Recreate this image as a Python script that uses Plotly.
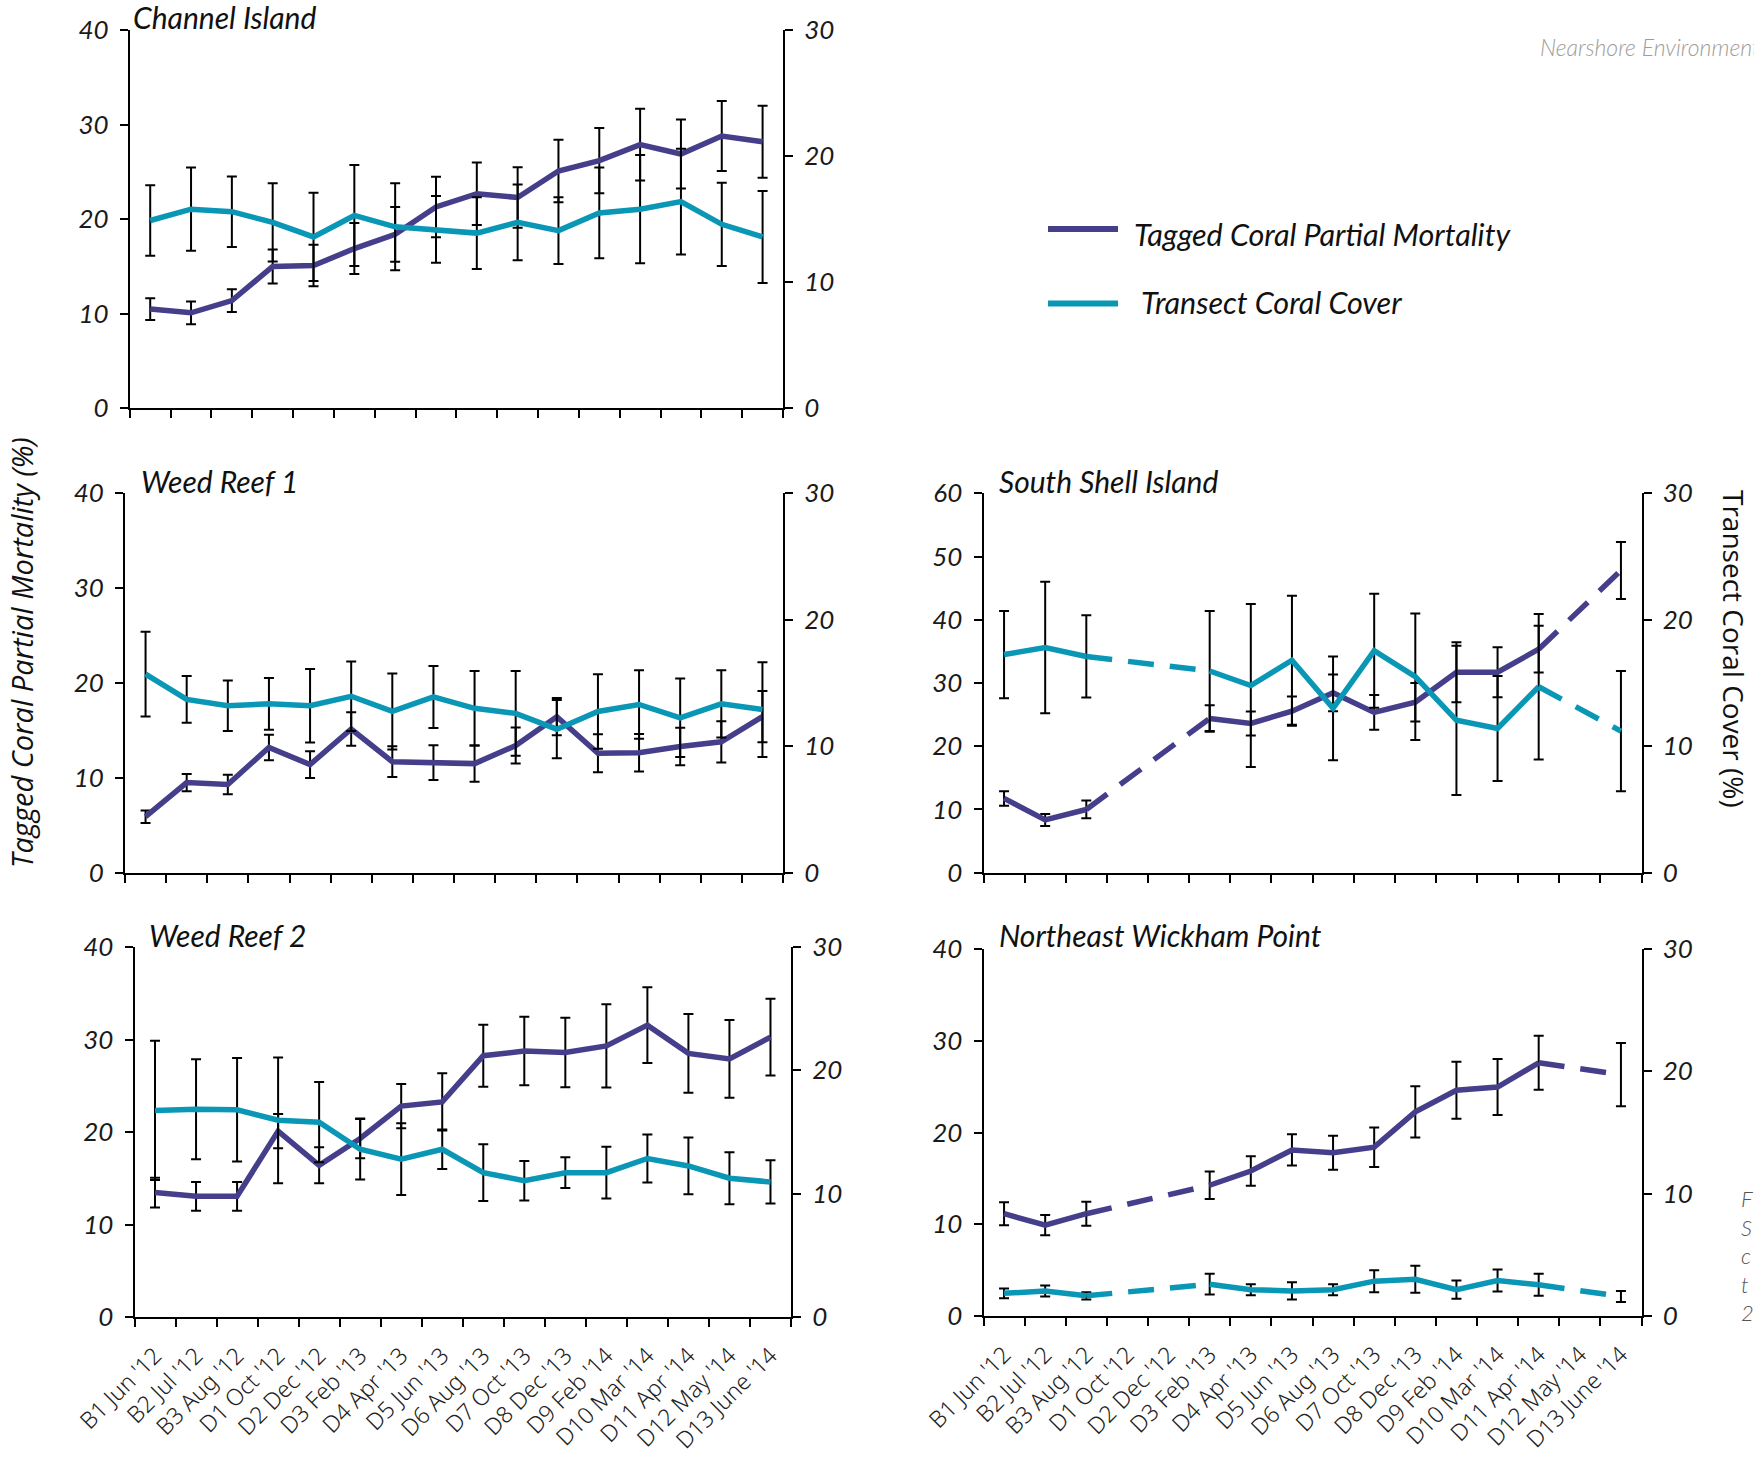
import plotly.graph_objects as go

# ---- sampling events (shared x categories) ----
events = ["B1 Jun '12", "B2 Jul '12", "B3 Aug '12", "D1 Oct '12", "D2 Dec '12",
          "D3 Feb '13", "D4 Apr '13", "D5 Jun '13", "D6 Aug '13", "D7 Oct '13",
          "D8 Dec '13", "D9 Feb '14", "D10 Mar '14", "D11 Apr '14", "D12 May '14",
          "D13 June '14"]

# ---- Channel Island ----
ci_mort = [10.5, 10.1, 11.4, 15.0, 15.1, 16.9, 18.4, 21.3, 22.7, 22.3, 25.1, 26.2, 27.9, 26.9, 28.8, 28.2]
ci_mort_err = [1.15, 1.2, 1.2, 1.8, 2.2, 2.7, 2.9, 3.2, 3.3, 3.2, 3.3, 3.45, 3.8, 3.65, 3.7, 3.8]
ci_cover = [14.9, 15.8, 15.6, 14.75, 13.6, 15.3, 14.4, 14.2, 13.9, 14.75, 14.1, 15.5, 15.8, 16.4, 14.6, 13.6]
ci_cover_err = [2.8, 3.3, 2.8, 3.1, 3.5, 4.0, 3.45, 2.65, 2.85, 3.0, 2.65, 3.6, 4.3, 4.2, 3.3, 3.65]

# ---- Weed Reef 1 ----
wr1_mort = [5.9, 9.5, 9.3, 13.2, 11.4, 15.15, 11.7, 11.6, 11.5, 13.4, 16.45, 12.6, 12.65, 13.3, 13.8, 16.45]
wr1_mort_err = [0.67, 0.91, 1.02, 1.34, 1.41, 1.76, 1.62, 1.83, 1.9, 1.9, 1.97, 2.0, 1.97, 1.97, 2.18, 2.7]
wr1_cover = [15.7, 13.7, 13.2, 13.35, 13.2, 13.95, 12.75, 13.9, 13.0, 12.6, 11.35, 12.75, 13.3, 12.25, 13.35, 12.9]
wr1_cover_err = [3.35, 1.85, 2.0, 2.05, 2.9, 2.75, 3.0, 2.45, 2.95, 3.35, 2.3, 2.95, 2.7, 3.1, 2.65, 3.75]

# ---- Weed Reef 2 ----
wr2_mort = [13.45, 13.05, 13.05, 20.1, 16.4, 19.3, 22.8, 23.25, 28.25, 28.75, 28.6, 29.3, 31.55, 28.5, 27.9, 30.25]
wr2_mort_err = [1.6, 1.55, 1.55, 1.85, 1.95, 2.15, 2.4, 3.1, 3.35, 3.7, 3.75, 4.5, 4.1, 4.25, 4.2, 4.15]
wr2_cover = [16.75, 16.85, 16.8, 15.95, 15.8, 13.6, 12.8, 13.6, 11.7, 11.05, 11.7, 11.7, 12.85, 12.25, 11.25, 10.95]
wr2_cover_err = [5.65, 4.05, 4.2, 5.1, 3.25, 2.45, 2.9, 1.6, 2.3, 1.6, 1.25, 2.1, 1.95, 2.3, 2.1, 1.75]

# ---- South Shell Island (no surveys at D1, D2, D12) ----
ss_mort = [11.75, 8.35, 10.0, None, None, 24.4, 23.6, 25.55, 28.45, 25.35, 26.95, 31.7, 31.7, 35.35, None, 47.8]
ss_mort_err = [1.15, 0.95, 1.4, None, None, 2.1, 1.9, 2.3, 2.9, 2.75, 3.05, 4.75, 3.95, 3.7, None, 4.5]
ss_cover = [17.25, 17.8, 17.1, None, None, 15.95, 14.8, 16.8, 13.0, 17.55, 15.5, 12.05, 11.4, 14.7, None, 11.2]
ss_cover_err = [3.45, 5.2, 3.25, None, None, 4.75, 6.45, 5.1, 4.1, 4.5, 5.0, 5.9, 4.15, 5.75, None, 4.75]

# ---- Northeast Wickham Point (no surveys at D1, D2, D12) ----
ne_mort = [11.15, 9.9, 11.15, None, None, 14.25, 15.8, 18.1, 17.8, 18.4, 22.25, 24.6, 24.95, 27.6, None, 26.3]
ne_mort_err = [1.25, 1.1, 1.3, None, None, 1.5, 1.6, 1.7, 1.85, 2.15, 2.8, 3.1, 3.05, 2.95, None, 3.45]
ne_cover = [1.85, 2.05, 1.65, None, None, 2.6, 2.15, 2.05, 2.15, 2.85, 3.0, 2.15, 2.9, 2.55, None, 1.6]
ne_cover_err = [0.4, 0.45, 0.3, None, None, 0.85, 0.45, 0.7, 0.45, 0.9, 1.1, 0.75, 0.9, 0.9, None, 0.45]

left_ticks_40 = [0, 10, 20, 30, 40]
left_ticks_60 = [0, 10, 20, 30, 40, 50, 60]
right_ticks = [0, 10, 20, 30]

PURPLE = "#453f8b"
CYAN = "#0a97b6"
W, H = 1754, 1468


def px_x(v):
    return v / W


def px_y(v):
    return 1 - v / H


# panel boxes in pixels: (left, right, top, bottom)
panels = [
    dict(title="Channel Island", mort=ci_mort, mort_err=ci_mort_err, cover=ci_cover, cover_err=ci_cover_err,
         lticks=left_ticks_40, box=(129.8, 783, 30.2, 408.3), labels=False, title_pos=(131, 17)),
    dict(title="Weed Reef 1", mort=wr1_mort, mort_err=wr1_mort_err, cover=wr1_cover, cover_err=wr1_cover_err,
         lticks=left_ticks_40, box=(125, 783, 493.3, 872.7), labels=False, title_pos=(139, 481)),
    dict(title="Weed Reef 2", mort=wr2_mort, mort_err=wr2_mort_err, cover=wr2_cover, cover_err=wr2_cover_err,
         lticks=left_ticks_40, box=(134.5, 791, 947, 1317), labels=True, title_pos=(147, 935)),
    dict(title="South Shell Island", mort=ss_mort, mort_err=ss_mort_err, cover=ss_cover, cover_err=ss_cover_err,
         lticks=left_ticks_60, box=(983.5, 1641.5, 493.3, 872.7), labels=False, title_pos=(997, 481)),
    dict(title="Northeast Wickham Point", mort=ne_mort, mort_err=ne_mort_err, cover=ne_cover, cover_err=ne_cover_err,
         lticks=left_ticks_40, box=(983.5, 1641.5, 949, 1316), labels=True, title_pos=(997, 935)),
]

tick_font = dict(family="Lato, 'Open Sans', sans-serif", size=26, color="#1a1a1a", style="italic")
xlab_font = dict(family="'Noto Sans', 'Open Sans', sans-serif", size=23, color="#222222", weight=300)
title_font = dict(family="Lato, 'Open Sans', sans-serif", size=30, color="#111111", style="italic")
DASH = "26px,16px"


def ax_key(prefix, i):
    return f"{prefix}axis" if i == 1 else f"{prefix}axis{i}"


def ax_ref(prefix, i):
    return prefix if i == 1 else f"{prefix}{i}"


def gap_links(vals):
    """Pairs of surveyed points separated by unsurveyed events."""
    idx = [i for i, v in enumerate(vals) if v is not None]
    xs, ys = [], []
    for a, b in zip(idx[:-1], idx[1:]):
        if b - a > 1:
            xs += [a, b, None]
            ys += [vals[a], vals[b], None]
    return xs, ys


fig = go.Figure()
layout = {}
annotations = []
xcat = list(range(len(events)))

for k, p in enumerate(panels):
    xi, ly, ry = k + 1, 2 * k + 1, 2 * k + 2
    xr, lyr, ryr = ax_ref("x", xi), ax_ref("y", ly), ax_ref("y", ry)
    l, r, t, b = p["box"]

    layout[ax_key("x", xi)] = dict(
        domain=[px_x(l), px_x(r)], anchor=lyr, range=[-0.5, len(events) - 0.5],
        automargin=False,
        showline=True, linecolor="black", linewidth=2, showgrid=False, zeroline=False,
        tickmode="array", tickvals=xcat, ticktext=events, showticklabels=p["labels"],
        ticks="outside", ticklen=14, tickcolor="rgba(0,0,0,0)", tickangle=-45,
        tickfont=xlab_font, fixedrange=True,
        minor=dict(tickmode="array", tickvals=[i - 0.5 for i in range(len(events) + 1)],
                   ticks="outside", ticklen=8, tickwidth=2, tickcolor="black", showgrid=False),
    )
    layout[ax_key("y", ly)] = dict(
        domain=[px_y(b), px_y(t)], anchor=xr, range=[0, p["lticks"][-1]], automargin=False,
        tickmode="array", tickvals=p["lticks"], showline=True, linecolor="black", linewidth=2,
        ticks="outside", ticklen=8, tickwidth=2, tickcolor="black", showgrid=False, zeroline=False,
        ticklabelstandoff=6, tickfont=tick_font, fixedrange=True,
    )
    layout[ax_key("y", ry)] = dict(
        overlaying=lyr, side="right", anchor=xr, range=[0, right_ticks[-1]], automargin=False,
        tickmode="array", tickvals=right_ticks, showline=True, linecolor="black", linewidth=2,
        ticks="outside", ticklen=8, tickwidth=2, tickcolor="black", showgrid=False, zeroline=False,
        ticklabelstandoff=6, tickfont=tick_font, fixedrange=True,
    )

    err_style = dict(type="data", visible=True, color="black", thickness=2, width=5)

    # transect coral cover on the right axis
    fig.add_trace(go.Scatter(
        x=xcat, y=p["cover"], xaxis=xr, yaxis=ryr, mode="lines",
        line=dict(color=CYAN, width=5.5), connectgaps=False, showlegend=False,
        error_y=dict(array=p["cover_err"], **err_style),
    ))
    gx, gy = gap_links(p["cover"])
    if gx:
        fig.add_trace(go.Scatter(x=gx, y=gy, xaxis=xr, yaxis=ryr, mode="lines",
                                 line=dict(color=CYAN, width=5.5, dash=DASH),
                                 showlegend=False))

    # tagged coral partial mortality on the left axis
    fig.add_trace(go.Scatter(
        x=xcat, y=p["mort"], xaxis=xr, yaxis=lyr, mode="lines",
        line=dict(color=PURPLE, width=5.5), connectgaps=False, showlegend=False,
        error_y=dict(array=p["mort_err"], **err_style),
    ))
    gx, gy = gap_links(p["mort"])
    if gx:
        fig.add_trace(go.Scatter(x=gx, y=gy, xaxis=xr, yaxis=lyr, mode="lines",
                                 line=dict(color=PURPLE, width=5.5, dash=DASH),
                                 showlegend=False))

    tx, ty = p["title_pos"]
    annotations.append(dict(text=p["title"], x=px_x(tx), y=px_y(ty), xref="paper", yref="paper",
                            xanchor="left", yanchor="middle", showarrow=False, font=title_font))

# axis titles
annotations.append(dict(text="Tagged Coral Partial Mortality (%)", x=px_x(22), y=px_y(653),
                        xref="paper", yref="paper", textangle=-90, showarrow=False,
                        xanchor="center", yanchor="middle",
                        font=dict(family="'Open Sans', Lato, sans-serif", size=29, color="#111111",
                                  style="italic")))
annotations.append(dict(text="Transect Coral Cover (%)", x=px_x(1734), y=px_y(649),
                        xref="paper", yref="paper", textangle=90, showarrow=False,
                        xanchor="center", yanchor="middle",
                        font=dict(family="'Open Sans', Lato, sans-serif", size=28, color="#111111")))

# legend
legend_items = [("Tagged Coral Partial Mortality", PURPLE, 229, 233.5, 1132),
                ("Transect Coral Cover", CYAN, 303.5, 302.5, 1139)]
shapes = []
for label, color, ypx, ty, tx in legend_items:
    shapes.append(dict(type="line", xref="paper", yref="paper", x0=px_x(1048), x1=px_x(1118),
                       y0=px_y(ypx), y1=px_y(ypx), line=dict(color=color, width=6)))
    annotations.append(dict(text=label, x=px_x(tx), y=px_y(ty), xref="paper", yref="paper",
                            xanchor="left", yanchor="middle", showarrow=False,
                            font=dict(family="Lato, 'Open Sans', sans-serif", size=30.5,
                                      color="#111111", style="italic")))

# running header and page caption at the right edge
annotations.append(dict(text="Nearshore Environmental", x=px_x(1538), y=px_y(47), xref="paper",
                        yref="paper", xanchor="left", yanchor="middle", showarrow=False,
                        font=dict(family="Lato, 'Open Sans', sans-serif", size=23, color="#a09c9a",
                                  style="italic", weight=300)))
annotations.append(dict(text="F<br>S<br>c<br>t<br>2", x=px_x(1739), y=px_y(1255), xref="paper",
                        yref="paper", xanchor="left", yanchor="middle", align="left", showarrow=False,
                        font=dict(family="Lato, 'Open Sans', sans-serif", size=22, color="#555555",
                                  style="italic", weight=300)))

layout.update(dict(
    template="none",
    width=W, height=H, autosize=False,
    margin=dict(l=0, r=0, t=0, b=0, pad=0),
    paper_bgcolor="white", plot_bgcolor="white",
    showlegend=False, annotations=annotations, shapes=shapes,
))
fig.update_layout(**layout)
fig.write_html("out.html", config={"displayModeBar": False})
